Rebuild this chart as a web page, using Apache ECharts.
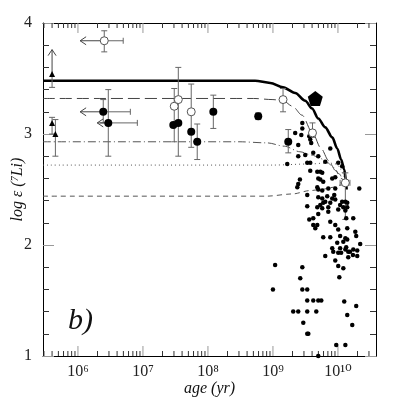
<!DOCTYPE html>
<html>
<head>
<meta charset="utf-8">
<script src="https://cdn.jsdelivr.net/npm/echarts@6/dist/echarts.min.js"></script>
<style>
  html, body { margin: 0; padding: 0; background: #fff; }
  #chart { width: 399px; height: 399px; }
</style>
</head>
<body>
<div id="chart"></div>
<script>
// axis ranges (age in yr, log eps Li)
const ageMin = 2.9e5;
const ageMax = 3.85e10;
const liMin = 1;
const liMax = 4;

// tick positions on the age axis
const xMajorTicks = [1e6, 1e7, 1e8, 1e9, 1e10];
const tickDecades = [1e5, 1e6, 1e7, 1e8, 1e9, 1e10];
const tickMultipliers = [2, 3, 4, 5, 6, 7, 8, 9];

// model curves
const modelSolid = [[2.9e5, 3.48], [5.3e8, 3.48], [9.1e8, 3.46], [1.43e9, 3.42], [2.2e9, 3.37],
  [3.14e9, 3.30], [4.0e9, 3.23], [4.98e9, 3.14], [6.38e9, 3.06], [8.17e9, 2.97], [9.75e9, 2.87],
  [1.12e10, 2.77], [1.25e10, 2.68], [1.33e10, 2.58], [1.36e10, 2.50]];
const modelLongDash = [[2.9e5, 3.32], [5e8, 3.32], [1.0e9, 3.31], [1.43e9, 3.30], [2.0e9, 3.25],
  [2.8e9, 3.17], [4.06e9, 3.01], [5.5e9, 2.87], [7.2e9, 2.76], [9.2e9, 2.67], [1.12e10, 2.60], [1.33e10, 2.55]];
const modelDashDot = [[2.9e5, 2.93], [3e8, 2.93], [8.2e8, 2.92], [1.5e9, 2.89], [2.6e9, 2.84],
  [4e9, 2.81], [5.35e9, 2.78], [7e9, 2.74], [8.5e9, 2.70], [1.05e10, 2.64], [1.2e10, 2.59], [1.33e10, 2.55]];
const modelDotted = [[2.9e5, 2.72], [1e9, 2.72], [3.7e9, 2.73], [7e9, 2.74], [9.5e9, 2.73],
  [1.12e10, 2.68], [1.22e10, 2.62], [1.33e10, 2.55]];
const modelDashed = [[2.9e5, 2.44], [8e8, 2.44], [2e9, 2.46], [3.7e9, 2.49], [5.5e9, 2.50],
  [8.5e9, 2.52], [1.1e10, 2.54], [1.33e10, 2.55]];

// field stars (small dots)
const fieldStars = [
  [2.83e9, 3.10], [2.83e9, 3.05], [2.73e9, 2.99], [2.2e9, 3.01], [3.62e9, 2.98], [3.75e9, 2.95],
  [3.88e9, 2.92], [2.45e9, 2.90], [7.62e9, 2.87], [4.17e9, 2.83], [3.14e9, 2.81], [2.45e9, 2.80],
  [4.98e9, 2.80], [6.38e9, 2.75], [3.75e9, 2.74], [3.37e9, 2.74], [1.01e10, 2.74], [1.16e10, 2.71],
  [1.66e9, 2.73], [3.75e9, 2.67], [4.81e9, 2.66], [5.35e9, 2.66], [5.73e9, 2.65], [8.17e9, 2.60],
  [9.09e9, 2.61], [4.98e9, 2.60], [2.6e9, 2.59], [2.45e9, 2.55], [2.37e9, 2.52], [5.35e9, 2.59],
  [5.94e9, 2.57], [7.1e9, 2.51], [4.81e9, 2.52], [4.98e9, 2.50], [5.73e9, 2.49], [9.09e9, 2.51],
  [2.13e10, 2.51], [3.37e9, 2.45], [4.98e9, 2.43], [5.73e9, 2.42], [6.84e9, 2.44], [8.17e9, 2.42],
  [9.09e9, 2.41], [8.77e9, 2.45], [6.38e9, 2.39], [5.94e9, 2.38], [5.35e9, 2.36], [4.81e9, 2.34],
  [7.62e9, 2.38], [7.1e9, 2.34], [1.16e10, 2.39], [1.3e10, 2.39], [1.08e10, 2.36], [1.21e10, 2.34],
  [1.39e10, 2.34], [1.39e10, 2.38], [3.37e9, 2.35], [7.1e9, 2.30], [4.98e9, 2.28], [4.17e9, 2.24],
  [3.62e9, 2.23], [5.73e9, 2.33], [1.01e10, 2.32], [1.3e10, 2.31], [1.72e10, 2.24], [1.34e10, 2.24],
  [7.62e9, 2.21], [4.17e9, 2.18], [4.81e9, 2.18], [4.48e9, 2.15], [9.09e9, 2.18], [1.01e10, 2.14],
  [1.39e10, 2.15], [1.85e10, 2.12], [1.91e10, 2.08], [5.94e9, 2.07], [7.62e9, 2.07], [1.08e10, 2.08],
  [1.3e10, 2.06], [1.39e10, 2.05], [1.21e10, 2.03], [9.75e9, 2.02], [8.17e9, 1.97], [8.47e9, 1.94],
  [1.08e10, 1.97], [1.44e10, 1.94], [1.72e10, 1.96], [1.98e10, 1.95], [2.2e10, 2.01], [1.98e10, 1.90],
  [1.01e10, 1.93], [9.09e9, 1.86], [6.38e9, 1.90], [1.01e10, 1.81], [1.21e10, 1.79], [2.83e9, 1.80],
  [2.63e9, 1.70], [1.05e10, 1.71], [1.3e10, 1.96], [1.34e10, 1.98], [1.44e10, 1.89], [1.53e10, 1.94],
  [1.12e10, 1.93], [1.7e10, 1.91], [1.08e9, 1.82], [1.0e9, 1.60], [2.83e9, 1.60], [3.37e9, 1.60],
  [3.37e9, 1.50], [4.17e9, 1.50], [4.98e9, 1.50], [5.54e9, 1.50], [1.25e10, 1.49], [2.05e9, 1.40],
  [2.45e9, 1.40], [3.37e9, 1.40], [4.64e9, 1.40], [1.91e10, 1.45], [1.39e10, 1.37], [2.93e9, 1.30],
  [1.66e10, 1.28], [3.37e9, 1.20], [3.5e9, 1.20], [9.42e9, 1.10], [1.3e10, 1.10], [4.98e9, 1.00]
];

// cluster / young star points
const filledCircles = [[2.45e6, 3.20], [2.93e6, 3.10], [2.93e7, 3.08], [3.5e7, 3.10], [5.53e7, 3.02],
  [6.84e7, 2.93], [1.21e8, 3.20], [5.94e8, 3.16], [1.72e9, 2.93]];
const openCircles = [[2.54e6, 3.84], [3.03e7, 3.25], [3.5e7, 3.31], [5.53e7, 3.20], [1.43e9, 3.31],
  [4.06e9, 3.01], [1.3e10, 2.56]];
const triangles = [[4.0e5, 3.54], [4.0e5, 3.10], [4.5e5, 3.00]];
const sun = [[4.48e9, 3.32]];

// [age, li, ageLo, ageHi, liLo, liHi]
const errorBars = [
  [2.54e6, 3.84, null, 4.97e6, 3.74, 3.93],
  [4.0e5, 3.54, null, null, 3.42, null],
  [4.0e5, 3.10, null, null, 3.00, 3.15],
  [4.5e5, 3.00, null, null, 2.80, 3.13],
  [2.45e6, 3.20, null, 6.4e6, 3.10, 3.31],
  [2.93e6, 3.10, null, 8.2e6, 2.80, 3.40],
  [3.03e7, 3.25, null, null, 2.93, 3.41],
  [3.5e7, 3.31, null, null, 2.80, 3.60],
  [5.53e7, 3.20, null, null, 2.88, 3.45],
  [6.84e7, 2.93, null, null, 2.77, 3.09],
  [1.21e8, 3.20, null, null, 3.05, 3.35],
  [5.94e8, 3.16, null, null, 3.13, 3.19],
  [1.43e9, 3.31, null, null, 3.20, 3.41],
  [1.72e9, 2.93, null, null, 2.83, 3.04],
  [4.06e9, 3.01, null, null, 2.97, 3.10],
  [1.3e10, 2.56, 1.08e10, 1.53e10, 2.23, 2.65]
];

// limits: [fromAge, fromLi, toAge, toLi]
const limitArrows = [
  [2.54e6, 3.84, 1.08e6, 3.84],
  [2.45e6, 3.20, 1.08e6, 3.20],
  [2.93e6, 3.10, 1.98e6, 3.10],
  [4.0e5, 3.54, 4.0e5, 3.76]
];

const serif = '"Liberation Serif", "DejaVu Serif", serif';
const supDigits = { '0': '\u2070', '1': '\u00b9', '2': '\u00b2', '3': '\u00b3', '4': '\u2074',
  '5': '\u2075', '6': '\u2076', '7': '\u2077', '8': '\u2078', '9': '\u2079' };

const tickData = [];
xMajorTicks.forEach(v => tickData.push([v, 1]));
tickDecades.forEach(d => tickMultipliers.forEach(m => {
  const v = d * m;
  if (v > ageMin && v < ageMax) tickData.push([v, 0]);
}));

function renderTick(params, api) {
  const v = api.value(0);
  const major = api.value(1) === 1;
  const len = major ? 10 : 5;
  const b = api.coord([v, liMin]);
  const t = api.coord([v, liMax]);
  const style = { stroke: major ? '#999' : '#333', lineWidth: 1 };
  return {
    type: 'group',
    children: [
      { type: 'line', shape: { x1: b[0], y1: b[1], x2: b[0], y2: b[1] - len }, style },
      { type: 'line', shape: { x1: t[0], y1: t[1], x2: t[0], y2: t[1] + len }, style }
    ]
  };
}

function renderError(params, api) {
  const e = errorBars[params.dataIndex];
  const style = { stroke: '#666', lineWidth: 1 };
  const cap = 3;
  const kids = [];
  if (e[4] != null || e[5] != null) {
    const lo = api.coord([e[0], e[4] != null ? e[4] : e[1]]);
    const hi = api.coord([e[0], e[5] != null ? e[5] : e[1]]);
    kids.push({ type: 'line', shape: { x1: lo[0], y1: lo[1], x2: hi[0], y2: hi[1] }, style });
    if (e[4] != null) kids.push({ type: 'line', shape: { x1: lo[0] - cap, y1: lo[1], x2: lo[0] + cap, y2: lo[1] }, style });
    if (e[5] != null) kids.push({ type: 'line', shape: { x1: hi[0] - cap, y1: hi[1], x2: hi[0] + cap, y2: hi[1] }, style });
  }
  if (e[2] != null || e[3] != null) {
    const l = api.coord([e[2] != null ? e[2] : e[0], e[1]]);
    const r = api.coord([e[3] != null ? e[3] : e[0], e[1]]);
    kids.push({ type: 'line', shape: { x1: l[0], y1: l[1], x2: r[0], y2: r[1] }, style });
    if (e[2] != null) kids.push({ type: 'line', shape: { x1: l[0], y1: l[1] - cap, x2: l[0], y2: l[1] + cap }, style });
    if (e[3] != null) kids.push({ type: 'line', shape: { x1: r[0], y1: r[1] - cap, x2: r[0], y2: r[1] + cap }, style });
  }
  return { type: 'group', children: kids };
}

function renderArrow(params, api) {
  const a = limitArrows[params.dataIndex];
  const p0 = api.coord([a[0], a[1]]);
  const p1 = api.coord([a[2], a[3]]);
  const dx = p1[0] - p0[0], dy = p1[1] - p0[1];
  const L = Math.sqrt(dx * dx + dy * dy) || 1;
  const ux = dx / L, uy = dy / L;
  const h = 6, w = 4;
  const style = { stroke: '#444', lineWidth: 1, fill: null };
  return {
    type: 'group',
    children: [
      { type: 'line', shape: { x1: p0[0], y1: p0[1], x2: p1[0], y2: p1[1] }, style },
      { type: 'polyline', shape: { points: [
        [p1[0] - ux * h - uy * w, p1[1] - uy * h + ux * w],
        [p1[0], p1[1]],
        [p1[0] - ux * h + uy * w, p1[1] - uy * h - ux * w]
      ] }, style }
    ]
  };
}

function modelLine(data, width, color, type) {
  return {
    type: 'line', data, showSymbol: false, smooth: 0.3, smoothMonotone: 'x',
    lineStyle: { width, color, type }, z: 2, silent: true
  };
}

function ageLabel(v) {
  const e = Math.log10(v);
  const n = Math.round(e);
  if (Math.abs(e - n) > 1e-6) return '';
  return '10' + String(n).split('').map(c => supDigits[c]).join('');
}

const chart = echarts.init(document.getElementById('chart'), null, { renderer: 'canvas' });
chart.setOption({
  animation: false,
  backgroundColor: '#fff',
  grid: { left: 43, right: 23, top: 23, bottom: 43, containLabel: false, outerBoundsMode: 'none' },
  xAxis: [
    {
      type: 'log', logBase: 10, min: ageMin, max: ageMax, position: 'bottom',
      name: 'age (yr)', nameLocation: 'middle', nameGap: 25, nameMoveOverlap: false,
      nameTextStyle: { fontFamily: serif, fontStyle: 'italic', fontSize: 16, color: '#111' },
      axisLine: { show: true, lineStyle: { color: '#000', width: 1 } },
      axisTick: { show: false }, minorTick: { show: false },
      splitLine: { show: false },
      axisLabel: { formatter: ageLabel, fontFamily: serif, fontSize: 16, color: '#222', margin: 8 }
    },
    {
      type: 'log', logBase: 10, min: ageMin, max: ageMax, position: 'top',
      axisLine: { show: true, lineStyle: { color: '#000', width: 1 } },
      axisTick: { show: false }, axisLabel: { show: false }, splitLine: { show: false }
    }
  ],
  yAxis: [
    {
      type: 'value', min: liMin, max: liMax, interval: 1, position: 'left',
      name: 'log \u03b5 ({sup|7}Li)', nameLocation: 'middle', nameGap: 17, nameRotate: 90,
      nameMoveOverlap: false,
      nameTextStyle: {
        fontFamily: serif, fontStyle: 'italic', fontSize: 16, color: '#111',
        rich: {
          sup: { fontFamily: serif, fontStyle: 'italic', fontSize: 10, color: '#111',
            verticalAlign: 'top', lineHeight: 16 }
        }
      },
      axisLine: { show: true, lineStyle: { color: '#000', width: 1 } },
      axisTick: { inside: true, length: 11, lineStyle: { color: '#999' } },
      minorTick: { show: true, splitNumber: 5, length: 6, lineStyle: { color: '#333' } },
      splitLine: { show: false },
      axisLabel: { fontFamily: serif, fontSize: 16, color: '#222', margin: 11 }
    },
    {
      type: 'value', min: liMin, max: liMax, interval: 1, position: 'right',
      axisLine: { show: true, lineStyle: { color: '#000', width: 1 } },
      axisTick: { inside: true, length: 11, lineStyle: { color: '#999' } },
      minorTick: { show: true, splitNumber: 5, length: 6, lineStyle: { color: '#333' } },
      splitLine: { show: false },
      axisLabel: { show: false }
    }
  ],
  graphic: [
    { type: 'text', left: 68, top: 306,
      style: { text: 'b)', font: 'italic 30px ' + serif, fill: '#111' } }
  ],
  series: [
    { type: 'custom', data: tickData, renderItem: renderTick, silent: true, z: 1 },
    modelLine(modelDashed, 1, '#555', [5, 4]),
    modelLine(modelDotted, 1, '#555', [1, 3]),
    modelLine(modelDashDot, 1, '#555', [8, 3, 1, 3]),
    modelLine(modelLongDash, 1, '#444', [12, 5]),
    modelLine(modelSolid, 2.6, '#000', 'solid'),
    { type: 'custom', data: errorBars.map(e => [e[0], e[1]]), renderItem: renderError, silent: true, z: 3 },
    { type: 'custom', data: limitArrows.map(a => [a[0], a[1]]), renderItem: renderArrow, silent: true, z: 3 },
    { type: 'scatter', data: fieldStars, symbol: 'circle', symbolSize: 4.5,
      itemStyle: { color: '#000', opacity: 1 }, z: 4, silent: true },
    { type: 'scatter', data: filledCircles, symbol: 'circle', symbolSize: 8,
      itemStyle: { color: '#000', opacity: 1 }, z: 5, silent: true },
    { type: 'scatter', data: openCircles, symbol: 'circle', symbolSize: 8,
      itemStyle: { color: '#fff', borderColor: '#555', borderWidth: 1, opacity: 1 }, z: 5, silent: true },
    { type: 'scatter', data: triangles, symbol: 'triangle', symbolSize: 6,
      itemStyle: { color: '#000', opacity: 1 }, z: 5, silent: true },
    { type: 'scatter', data: sun, symbol: 'path://M0,-10L9.5,-3.1L5.9,8.1L-5.9,8.1L-9.5,-3.1Z',
      symbolSize: 15, itemStyle: { color: '#000', opacity: 1 }, z: 5, silent: true }
  ]
});
</script>
</body>
</html>
